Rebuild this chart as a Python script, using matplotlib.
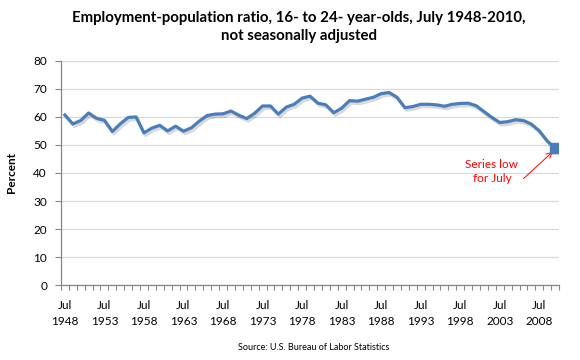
import numpy as np
import matplotlib
matplotlib.use("Agg")
import matplotlib.pyplot as plt
import matplotlib.patheffects as pe

plt.rcParams['font.family'] = ['Lato', 'DejaVu Sans']

# July values, 16- to 24-year-olds, 1948-2010
years = list(range(1948, 2011))
ratio = [60.7, 57.5, 58.7, 61.4, 59.5, 58.8, 54.8, 57.5, 59.8, 60.0,
         54.3, 56.0, 57.0, 55.0, 56.7, 54.9, 56.1, 58.5, 60.5, 61.0,
         61.1, 62.1, 60.6, 59.4, 61.3, 63.9, 63.9, 61.0, 63.5, 64.5,
         66.7, 67.4, 64.9, 64.3, 61.5, 63.1, 65.8, 65.6, 66.3, 67.0,
         68.3, 68.7, 67.0, 63.3, 63.7, 64.5, 64.5, 64.3, 63.8, 64.5,
         64.8, 64.9, 64.0, 61.9, 59.8, 58.0, 58.3, 59.0, 58.7, 57.4,
         55.0, 51.4, 48.9]
label_years = years[::5]

blue = '#4a7ebb'
grey_axis = '#868686'

fig = plt.figure(figsize=(5.8, 3.6), dpi=100)
ax = fig.add_axes([0.105, 0.208, 0.859, 0.623])

x = np.arange(len(years))
shadow = [pe.SimpleLineShadow(offset=(1.2, -1.8), shadow_color='black', alpha=0.15),
          pe.Normal()]
ax.plot(x, ratio, color=blue, lw=2.3, solid_joinstyle='round',
        path_effects=shadow, zorder=3)
ax.plot(x[-1], ratio[-1], marker='s', ms=7, color=blue, zorder=4,
        path_effects=[pe.SimplePatchShadow(offset=(1.2, -1.8), alpha=0.15), pe.Normal()])

ax.set_xlim(-0.5, len(years) - 0.5)
ax.set_ylim(0, 80)
ax.set_yticks(range(0, 81, 10))
ax.yaxis.grid(True, color='#d9d9d9', lw=0.9)
ax.set_axisbelow(True)

idx = [years.index(y) for y in label_years]
ax.set_xticks(idx)
ax.set_xticklabels(['Jul\n' + str(y) for y in label_years], linespacing=1.5)
ax.set_xticks(np.arange(-0.5, len(years), 1), minor=True)
ax.tick_params(axis='x', which='major', length=0, pad=11, labelsize=8.5)
ax.tick_params(axis='x', which='minor', length=3.5, color=grey_axis, width=0.8)
ax.tick_params(axis='y', length=4, color=grey_axis, width=0.8, labelsize=8.5, pad=6)

for s in ['top', 'right']:
    ax.spines[s].set_visible(False)
for s in ['left', 'bottom']:
    ax.spines[s].set_color(grey_axis)
    ax.spines[s].set_linewidth(0.9)

ax.set_ylabel('Percent', fontsize=8.5, fontweight='bold', labelpad=12)

# callout for the series low
ax.text(54.0, 40.5, 'Series low\nfor July', color='red', fontsize=8.5,
        ha='center', va='center', linespacing=1.35)
ax.annotate('', xy=(x[-1] - 0.3, ratio[-1] - 1.3), xytext=(58.0, 38.0),
            arrowprops=dict(arrowstyle='->', color='red', lw=0.7,
                            shrinkA=0, shrinkB=0))

fig.text(0.515, 0.925, 'Employment-population ratio, 16- to 24- year-olds, July 1948-2010,\nnot seasonally adjusted',
         ha='center', va='center', fontsize=10.8, fontweight='bold', linespacing=1.45)
fig.text(0.54, 0.035, 'Source: U.S. Bureau of Labor Statistics',
         ha='center', va='center', fontsize=6.5)

fig.savefig('out.png', dpi=100)
